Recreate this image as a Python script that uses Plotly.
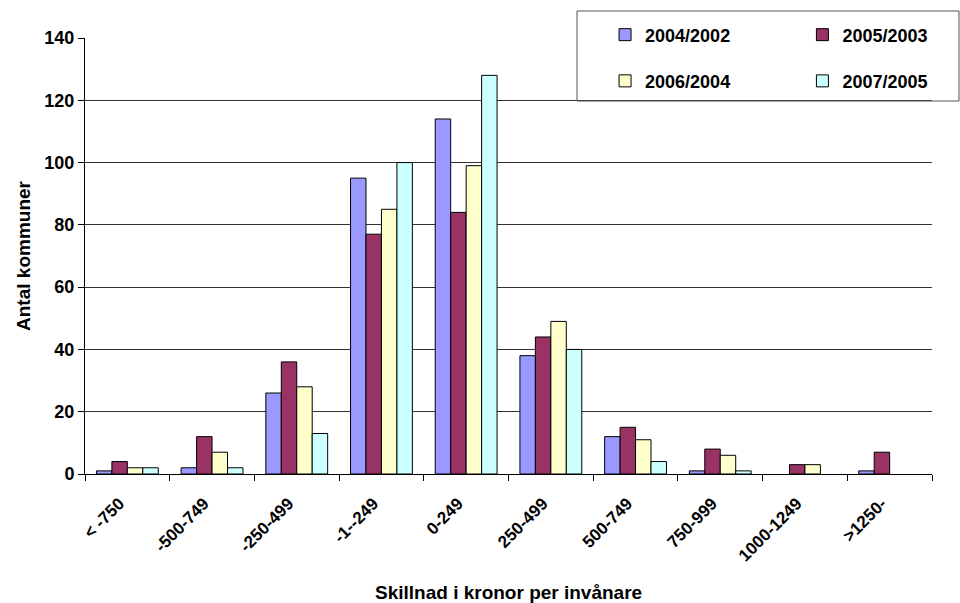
import plotly.graph_objects as go

categories = ["< -750", "-500-749", "-250-499", "-1--249", "0-249",
              "250-499", "500-749", "750-999", "1000-1249", ">1250-"]
series_names = ["2004/2002", "2005/2003", "2006/2004", "2007/2005"]
v_2004_2002 = [1, 2, 26, 95, 114, 38, 12, 1, 0, 1]
v_2005_2003 = [4, 12, 36, 77, 84, 44, 15, 8, 3, 7]
v_2006_2004 = [2, 7, 28, 85, 99, 49, 11, 6, 3, 0]
v_2007_2005 = [2, 2, 13, 100, 128, 40, 4, 1, 0, 0]
y_ticks = [0, 20, 40, 60, 80, 100, 120, 140]

series_values = [v_2004_2002, v_2005_2003, v_2006_2004, v_2007_2005]
colors = ["#9999FF", "#993366", "#FFFFCC", "#CCFFFF"]
legend_ids = ["legend", "legend2", "legend3", "legend4"]

FONT = "Liberation Sans, Arial, sans-serif"

fig = go.Figure()
for name, vals, col, lg in zip(series_names, series_values, colors, legend_ids):
    fig.add_trace(go.Bar(
        x=categories, y=vals, name=f"<b>{name}</b>", legend=lg,
        marker=dict(color=col,
                    line=dict(color="#000000",
                              width=[1 if v > 0 else 0 for v in vals])),
    ))

# one legend per entry so the 2x2 grid can be placed freely
leg_pos = {"legend": (0.614, 1.007), "legend2": (0.847, 1.007),
           "legend3": (0.614, 0.901), "legend4": (0.847, 0.901)}
leg_common = dict(xanchor="left", yanchor="middle", bgcolor="rgba(0,0,0,0)",
                  borderwidth=0,
                  font=dict(family=FONT, size=18, color="#000000"),
                  itemwidth=30)
legends = {k: dict(x=p[0], y=p[1], **leg_common) for k, p in leg_pos.items()}

fig.update_layout(
    width=960, height=603,
    margin=dict(l=85, r=28, t=38, b=129),
    paper_bgcolor="#FFFFFF", plot_bgcolor="#FFFFFF",
    barmode="group", bargap=0.27, bargroupgap=0,
    font=dict(family=FONT, size=18, color="#000000"),
    showlegend=True,
    **legends,
)

fig.update_xaxes(
    type="category", tickangle=-45, tickson="boundaries",
    tickvals=categories, ticktext=[f"<b>{c}</b>" for c in categories],
    ticks="outside", ticklen=6, tickcolor="#000000",
    ticklabelstandoff=12, ticklabelshift=-8,
    showline=True, linecolor="#000000", linewidth=1,
    showgrid=False, automargin=False,
    tickfont=dict(family=FONT, size=17, color="#000000"),
)
fig.update_yaxes(
    range=[0, 140], tickvals=y_ticks,
    ticktext=[f"<b>{t}</b>" for t in y_ticks],
    ticks="outside", ticklen=6, tickcolor="#000000",
    showline=True, linecolor="#000000", linewidth=1,
    showgrid=True, gridcolor="#333333", gridwidth=1,
    zeroline=False, automargin=False,
    tickfont=dict(family=FONT, size=18, color="#000000"),
    title=dict(text="<b>Antal kommuner</b>", font=dict(family=FONT, size=19),
               standoff=8),
)

# x-axis title placed below the slanted category labels
fig.add_annotation(text="<b>Skillnad i kronor per invånare</b>",
                   xref="paper", yref="paper", x=0.5, y=(474 - 592) / 436,
                   xanchor="center", yanchor="middle", showarrow=False,
                   font=dict(family=FONT, size=19, color="#000000"))

# legend frame
fig.add_shape(type="rect", xref="paper", yref="paper",
              x0=(577 - 85) / 847, x1=(959 - 85) / 847,
              y0=(474 - 101) / 436, y1=(474 - 11) / 436,
              line=dict(color="#555555", width=1), fillcolor="rgba(0,0,0,0)",
              layer="above")

# clipped heading glyph at the very top
fig.add_annotation(text="<i>p</i>", xref="paper", yref="paper",
                   x=(97 - 85) / 847, y=(474 + 2) / 436,
                   xanchor="center", yanchor="bottom", showarrow=False,
                   font=dict(family="Liberation Serif, Times New Roman, serif",
                             size=22, color="#000000"))

fig.write_html("out.html")
